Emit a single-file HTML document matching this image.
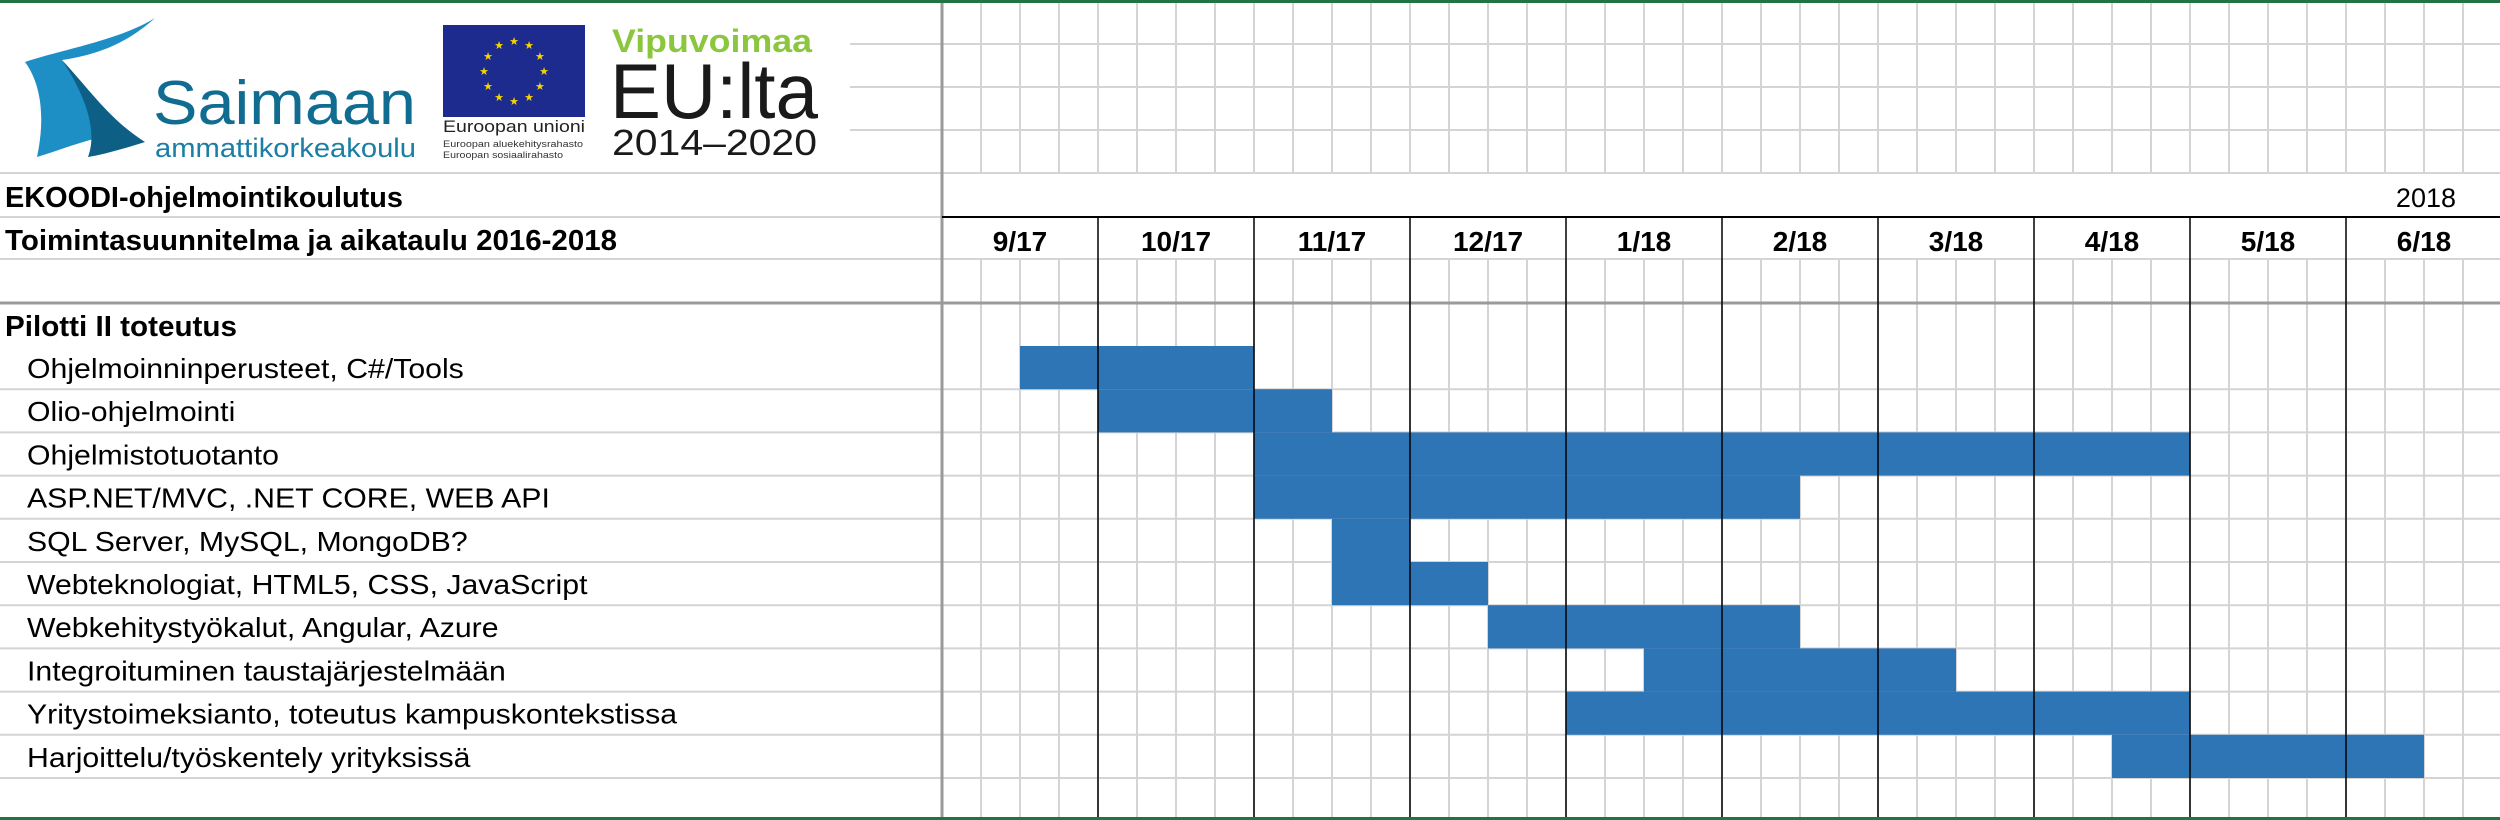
<!DOCTYPE html>
<html><head><meta charset="utf-8"><style>
html,body{margin:0;padding:0;background:#fff;}
svg{display:block;font-family:"Liberation Sans",sans-serif;}
</style></head><body>
<svg id="chart" width="2500" height="820" viewBox="0 0 2500 820" xmlns="http://www.w3.org/2000/svg">
<rect x="0" y="0" width="2500" height="820" fill="#fff"/>
<g id="grid"></g>
<g id="bars"></g>
<g id="lines"></g>
<g id="labels"></g>
<g>
  <path d="M155 18 C125 45 95 55 62 60 C80 85 95 110 110 135 C85 140 60 150 37 157 C45 120 42 85 25 62 C60 50 120 40 155 18 Z" fill="#1d8fc5"/>
  <path d="M62 60 C90 90 110 120 145 142 C120 150 100 155 88 157 C98 130 85 95 62 60 Z" fill="#0d5f86"/>
  <text x="153" y="124" font-size="62" fill="#106c90" textLength="263" lengthAdjust="spacingAndGlyphs">Saimaan</text>
  <text x="155" y="157" font-size="27" fill="#1b7ea5" textLength="261" lengthAdjust="spacingAndGlyphs">ammattikorkeakoulu</text>
  <rect x="443" y="25" width="142" height="92" fill="#1d2a8e"/>
  <g fill="#f5d400" font-size="11" text-anchor="middle" id="stars"></g>
  <text x="443" y="132" font-size="17" fill="#222" textLength="142" lengthAdjust="spacingAndGlyphs">Euroopan unioni</text>
  <text x="443" y="147" font-size="9" fill="#333" textLength="140" lengthAdjust="spacingAndGlyphs">Euroopan aluekehitysrahasto</text>
  <text x="443" y="158" font-size="9" fill="#333" textLength="120" lengthAdjust="spacingAndGlyphs">Euroopan sosiaalirahasto</text>
  <text x="612" y="52" font-size="32" font-weight="bold" fill="#8cc63f" textLength="200" lengthAdjust="spacingAndGlyphs">Vipuvoimaa</text>
  <text x="610" y="118" font-size="78" fill="#1a1a1a" textLength="208" lengthAdjust="spacingAndGlyphs">EU:lta</text>
  <text x="612" y="155" font-size="36" fill="#1a1a1a" textLength="205" lengthAdjust="spacingAndGlyphs">2014–2020</text>
</g>
<rect x="0" y="0" width="2500" height="3" fill="#217346"/>
<rect x="0" y="817" width="2500" height="3" fill="#217346"/>
</svg>
<script>
const months = ["9/17","10/17","11/17","12/17","1/18","2/18","3/18","4/18","5/18","6/18"];
const tasks = ["Ohjelmoinninperusteet, C#/Tools","Olio-ohjelmointi","Ohjelmistotuotanto","ASP.NET/MVC, .NET CORE, WEB API","SQL Server, MySQL, MongoDB?","Webteknologiat, HTML5, CSS, JavaScript","Webkehitystyökalut, Angular, Azure","Integroituminen taustajärjestelmään","Yritystoimeksianto, toteutus kampuskontekstissa","Harjoittelu/työskentely yrityksissä"];
const startWeek = [2,4,8,8,10,10,14,18,16,30];
const endWeek = [8,10,32,22,12,14,22,26,32,38];

const NS="http://www.w3.org/2000/svg";
const X0=942, WK=39, ROW0=346, RH=43.2;
const xs=w=>X0+w*WK;
const ys=i=>ROW0+i*RH;
function mk(tag,attrs,parent){const e=document.createElementNS(NS,tag);for(const k in attrs)e.setAttribute(k,attrs[k]);parent.appendChild(e);return e;}
const grid=document.getElementById('grid'),bars=document.getElementById('bars'),lines=document.getElementById('lines'),labels=document.getElementById('labels');
const G="#d4d4d4";
[44,87,130].forEach(y=>mk('line',{x1:850,x2:2500,y1:y,y2:y,stroke:G,'stroke-width':2},grid));
[173,217,259].forEach(y=>mk('line',{x1:0,x2:2500,y1:y,y2:y,stroke:G,'stroke-width':2},grid));
for(let i=1;i<=tasks.length+1;i++){const y=ys(i);mk('line',{x1:0,x2:2500,y1:y,y2:y,stroke:G,'stroke-width':2},grid);}
for(let w=1;w<=months.length*4;w++){const x=xs(w);
 mk('line',{x1:x,x2:x,y1:0,y2:173,stroke:G,'stroke-width':2},grid);
 mk('line',{x1:x,x2:x,y1:259,y2:820,stroke:G,'stroke-width':2},grid);}
tasks.forEach((t,i)=>{const r=mk('rect',{x:xs(startWeek[i]),y:ys(i),width:xs(endWeek[i])-xs(startWeek[i]),height:RH,fill:'#2e75b6'},bars);

});
mk('line',{x1:0,x2:2500,y1:303,y2:303,stroke:'#9a9a9a','stroke-width':3},lines);
mk('line',{x1:942,x2:942,y1:0,y2:820,stroke:'#9a9a9a','stroke-width':3},lines);
mk('line',{x1:942,x2:2500,y1:217,y2:217,stroke:'#000','stroke-width':2},lines);
months.forEach((m,i)=>{if(i>0){const x=xs(i*4);mk('line',{x1:x,x2:x,y1:217,y2:820,stroke:'#000','stroke-width':1.5},lines);}
 const t=mk('text',{x:xs(i*4+2),y:251,'font-size':28,'font-weight':'bold','text-anchor':'middle',fill:'#000'},labels);t.textContent=m;
 
 });
function txt(s,x,y,o){const t=mk('text',Object.assign({x:x,y:y,'font-size':27,fill:'#000'},o||{}),labels);t.textContent=s;return t;}
let a=txt("EKOODI-ohjelmointikoulutus",5,207,{'font-weight':'bold','font-size':29,textLength:398,lengthAdjust:'spacingAndGlyphs'});

a=txt("Toimintasuunnitelma ja aikataulu 2016-2018",5,250,{'font-weight':'bold','font-size':29,textLength:612,lengthAdjust:'spacingAndGlyphs'});

a=txt("2018",2456,207,{'text-anchor':'end','font-size':27});

a=txt("Pilotti II toteutus",5,336,{'font-weight':'bold','font-size':29,textLength:232,lengthAdjust:'spacingAndGlyphs'});

tasks.forEach((t,i)=>{const e=mk('text',{x:0,y:0,'font-size':28,fill:'#000',transform:'translate(27,'+(ys(i)+32)+') scale(1.08,1)'},labels);
e.textContent=t;

});
const st=document.getElementById('stars');
for(let k=0;k<12;k++){const an=k*Math.PI/6;const s=mk('text',{x:514+30*Math.cos(an),y:71+30*Math.sin(an)+4},st);s.textContent="★";}
</script>
</body></html>
